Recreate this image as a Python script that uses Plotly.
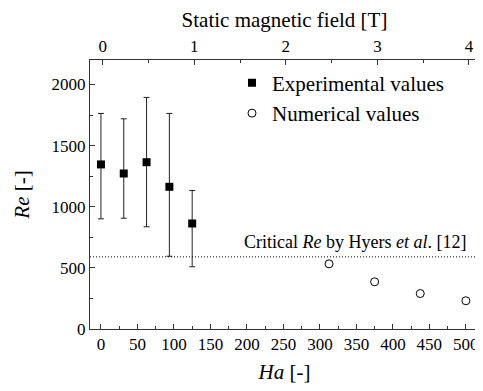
import plotly.graph_objects as go

# Experimental values
exp_ha = [0, 31.25, 62.5, 93.75, 125]
exp_re = [1346, 1272, 1364, 1163, 863]
exp_err_plus = [417, 447, 530, 600, 270]
exp_err_minus = [445, 366, 528, 568, 354]

# Numerical values
num_ha = [312.5, 375, 437.5, 500]
num_re = [533, 386, 290, 231]

critical_re = 590

ha_ticks = [0, 50, 100, 150, 200, 250, 300, 350, 400, 450, 500]
re_ticks = [0, 500, 1000, 1500, 2000]
b_ticks = [0, 1, 2, 3, 4]

FONT = "'Liberation Serif', 'Times New Roman', serif"

fig = go.Figure()

fig.add_trace(go.Scatter(
    x=exp_ha, y=exp_re, mode="markers", name="Experimental values",
    legendgroup="a",
    marker=dict(symbol="square", size=8, color="black"),
    error_y=dict(type="data", symmetric=False, array=exp_err_plus,
                 arrayminus=exp_err_minus, color="#222", thickness=1, width=3),
))
fig.add_trace(go.Scatter(
    x=num_ha, y=num_re, mode="markers", name="Numerical values",
    legendgroup="b",
    marker=dict(symbol="circle-open", size=8, color="black", line=dict(width=1)),
))

fig.add_shape(type="line", xref="paper", x0=0, x1=1, yref="y",
              y0=critical_re, y1=critical_re,
              line=dict(color="black", width=1, dash="1px,2px"))

fig.add_annotation(xref="paper", x=0.9717, xanchor="right",
                   yref="y", y=710, yanchor="middle",
                   text="Critical <i>Re</i> by Hyers <i>et al</i>. [12]",
                   showarrow=False, font=dict(family=FONT, size=18, color="black"))

axis_common = dict(showline=True, linecolor="#333", linewidth=1,
                   ticks="inside", ticklen=5, tickcolor="#333",
                   showgrid=False, zeroline=False, automargin=False,
                   tickfont=dict(family=FONT, size=17, color="black"))

fig.update_layout(
    width=475, height=383,
    margin=dict(l=82, r=4, t=51.5, b=61.5, autoexpand=False),
    paper_bgcolor="white", plot_bgcolor="white",
    font=dict(family=FONT, size=17, color="black"),
    xaxis=dict(range=[-15, 518], tickvals=ha_ticks,
               minor=dict(ticks="inside", ticklen=3, dtick=25, tick0=0, tickcolor="#333"),
               title=dict(text="<i>Ha</i> [-]", font=dict(family=FONT, size=21), standoff=10),
               **axis_common),
    xaxis2=dict(range=[-0.14, 4.11], tickvals=b_ticks, overlaying="x", side="top",
                minor=dict(ticks="inside", ticklen=3, dtick=0.5, tick0=0, tickcolor="#333"),
                title=dict(text="Static magnetic field [T]", font=dict(family=FONT, size=21), standoff=4),
                **axis_common),
    yaxis=dict(range=[0, 2200], tickvals=re_ticks, mirror=True,
               minor=dict(ticks="inside", ticklen=3, dtick=250, tick0=0, tickcolor="#333"),
               title=dict(text="<i>Re</i> [-]", font=dict(family=FONT, size=21), standoff=16),
               **axis_common),
    legend=dict(x=0.365, y=0.99, xanchor="left", yanchor="top",
                bgcolor="rgba(0,0,0,0)", font=dict(family=FONT, size=21),
                tracegroupgap=0),
    showlegend=True,
)

# invisible trace so the top axis is drawn
fig.add_trace(go.Scatter(x=[None], y=[None], xaxis="x2", showlegend=False, hoverinfo="skip"))

fig.write_html("out.html")
